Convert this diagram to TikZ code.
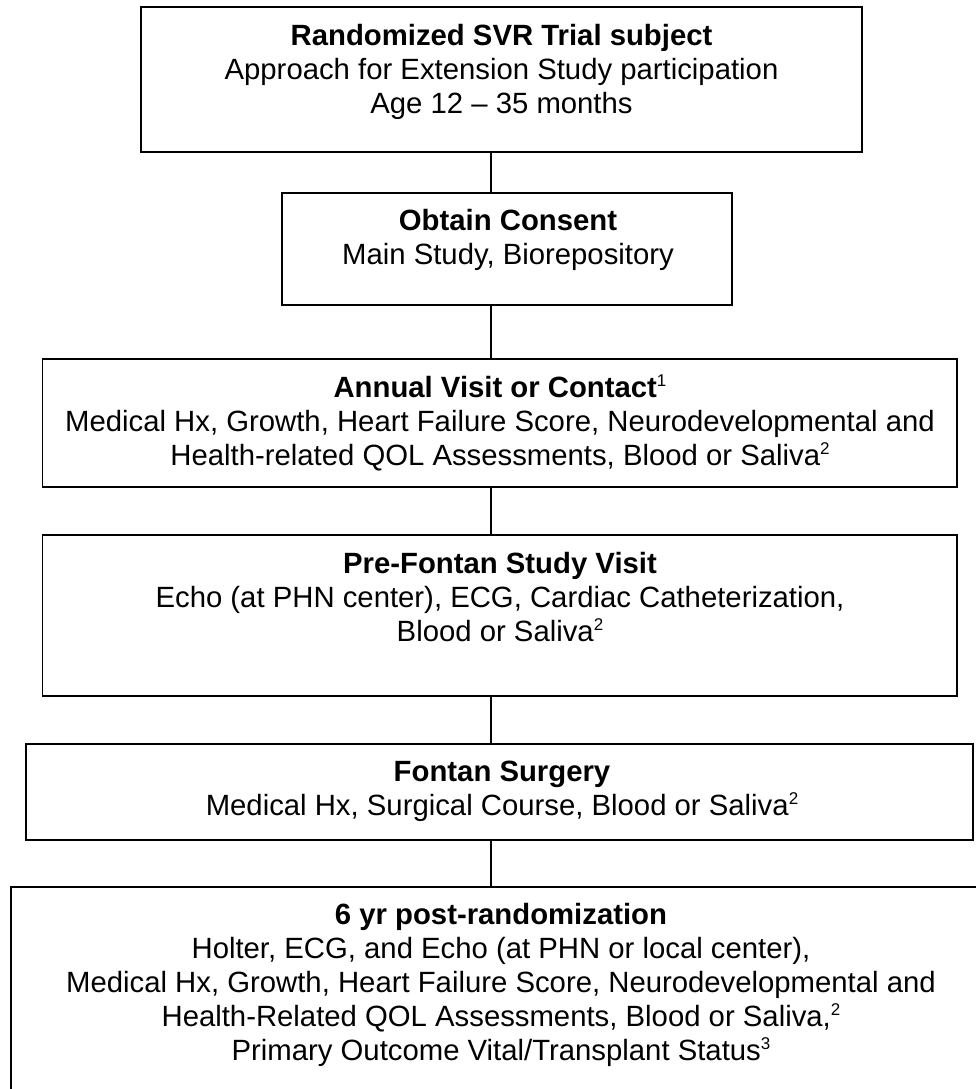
\documentclass[tikz,border=0pt]{standalone}
\usepackage{fontspec}
\setmainfont{Liberation Sans}
\newcommand\supr[1]{\raisebox{0.36em}{\fontsize{17}{17}\selectfont #1}}
\begin{document}
\begin{tikzpicture}[x=1pt,y=-1pt,
  box/.style={draw=black, line width=1.8pt, rectangle, inner sep=0pt},
  txt/.style={anchor=north, align=center, inner sep=0pt, font=\fontsize{29.3}{34}\selectfont},
  conn/.style={draw=black, line width=1.3pt}]
\useasboundingbox (0,0) rectangle (976,1089);
\fill[white] (0,0) rectangle (976,1089);
\clip (0,0) rectangle (976,1089);
\coordinate (cx) at (491,0);
% boxes
\node[box, minimum width=721pt, minimum height=145pt] (b1) at (501.5,79.5) {};
\node[box, minimum width=450pt, minimum height=112pt] (b2) at (507,249) {};
\node[box, minimum width=914.5pt, minimum height=128pt] (b3) at (499.75,423) {};
\node[box, minimum width=914.5pt, minimum height=161pt] (b4) at (499.75,615.5) {};
\node[box, minimum width=947pt, minimum height=96pt] (b5) at (499.5,792) {};
\node[box, minimum width=980pt, minimum height=213pt] (b6) at (501,993.5) {};
% texts
\node[txt] (t1) at (501.5,20) {\rule{0pt}{25pt}\textbf{Randomized SVR Trial subject}\\
  Approach for Extension Study participation\\ Age 12 – 35 months};
\node[txt] (t2) at (508,205) {\rule{0pt}{25pt}\textbf{Obtain Consent}\\ Main Study, Biorepository};
\node[txt] (t3) at (500,372) {\rule{0pt}{25pt}\textbf{Annual Visit or Contact}\supr{1}\\
  Medical Hx, Growth, Heart Failure Score, Neurodevelopmental and\\
  Health-related QOL Assessments, Blood or Saliva\supr{2}};
\node[txt] (t4) at (500,548) {\rule{0pt}{25pt}\textbf{Pre-Fontan Study Visit}\\
  Echo (at PHN center), ECG, Cardiac Catheterization,\\ Blood or Saliva\supr{2}};
\node[txt] (t5) at (502,756) {\rule{0pt}{25pt}\textbf{Fontan Surgery}\\
  Medical Hx, Surgical Course, Blood or Saliva\supr{2}};
\node[txt] (t6) at (501,899) {\rule{0pt}{25pt}\textbf{6 yr post-randomization}\\
  Holter, ECG, and Echo (at PHN or local center),\\
  Medical Hx, Growth, Heart Failure Score, Neurodevelopmental and\\
  Health-Related QOL Assessments, Blood or Saliva,\supr{2}\\
  Primary Outcome Vital/Transplant Status\supr{3}};
% connectors
\draw[conn] (b1.south -| cx) -- (b2.north -| cx);
\draw[conn] (b2.south -| cx) -- (b3.north -| cx);
\draw[conn] (b3.south -| cx) -- (b4.north -| cx);
\draw[conn] (b4.south -| cx) -- (b5.north -| cx);
\draw[conn] (b5.south -| cx) -- (b6.north -| cx);
\end{tikzpicture}
\end{document}
